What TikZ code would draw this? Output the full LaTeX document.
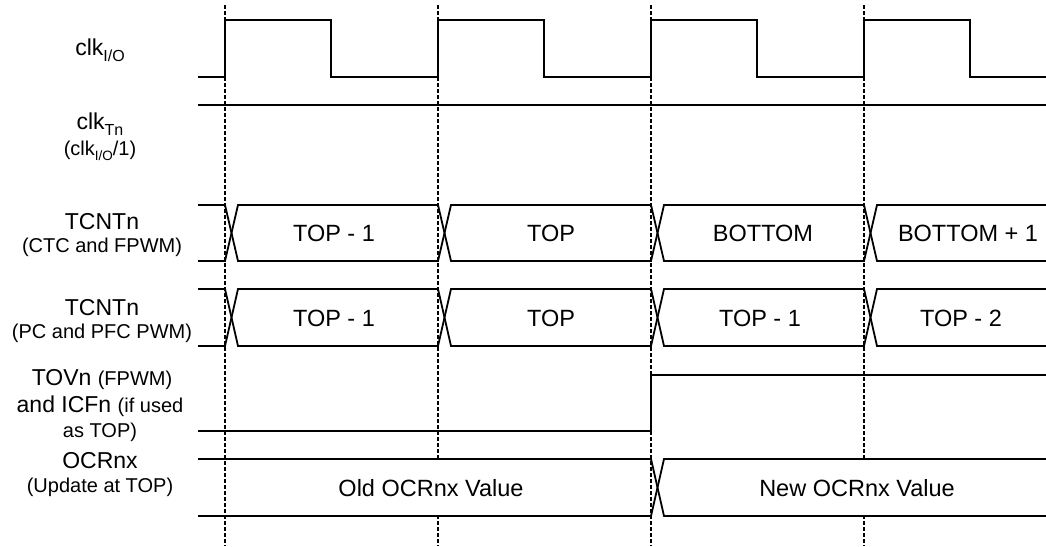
\documentclass[tikz,border=0pt]{standalone}
\usepackage{fontspec}
\setmainfont{Liberation Sans}
\newcommand{\mainsz}{\fontsize{23}{26}\selectfont}
\newcommand{\subsz}{\fontsize{20}{24}\selectfont}
\newcommand{\valsz}{\fontsize{23.5}{26}\selectfont}
\newcommand{\sbsbig}[1]{\raisebox{-6pt}{\fontsize{16}{16}\selectfont #1}}
\newcommand{\sbssmall}[1]{\raisebox{-5pt}{\fontsize{13.5}{14}\selectfont #1}}
\tikzset{
  sig/.style={line width=1.8pt, line join=miter},
  guide/.style={line width=1.3pt, dash pattern=on 4pt off 2pt},
  lab/.style={anchor=base, inner sep=0pt, align=center},
  val/.style={anchor=center, inner sep=0pt, font=\valsz},
}
\begin{document}
\begin{tikzpicture}[x=1pt,y=-1pt]
\useasboundingbox (0,0) rectangle (1046,546);
% guide lines
\foreach \gx/\gn in {225/g1,438/g2,651/g3,864/g4}{
  \coordinate (\gn t) at (\gx,5);
  \coordinate (\gn b) at (\gx,546);
  \draw[guide] (\gn t) -- (\gn b);
}
% OCRnx bus bodies hide the guides
\fill[white] (231,461) rectangle (645,514);
\fill[white] (670,461) rectangle (1044,514);

% clk I/O
\draw[sig] (198,77) -- (225,77) -- (225,20) -- (331,20) -- (331,77) -- (438,77) -- (438,20) -- (544,20) -- (544,77) -- (651,77) -- (651,20) -- (757,20) -- (757,77) -- (864,77) -- (864,20) -- (970,20) -- (970,77) -- (1046,77);
% clk Tn
\draw[sig] (198,105) -- (1046,105);
% TCNTn CTC/FPWM
\draw[sig] (198,205) -- (225,205) -- (238,261) -- (438,261) -- (451,205) -- (651,205) -- (664,261) -- (864,261) -- (877,205) -- (1046,205);
\draw[sig] (198,261) -- (225,261) -- (238,205) -- (438,205) -- (451,261) -- (651,261) -- (664,205) -- (864,205) -- (877,261) -- (1046,261);
% TCNTn PC/PFC
\draw[sig] (198,289) -- (225,289) -- (238,346) -- (438,346) -- (451,289) -- (651,289) -- (664,346) -- (864,346) -- (877,289) -- (1046,289);
\draw[sig] (198,346) -- (225,346) -- (238,289) -- (438,289) -- (451,346) -- (651,346) -- (664,289) -- (864,289) -- (877,346) -- (1046,346);
% TOVn
\draw[sig] (198,431) -- (651,431) -- (651,375) -- (1046,375);
% OCRnx
\draw[sig] (198,459) -- (651,459) -- (664,516) -- (1046,516);
\draw[sig] (198,516) -- (651,516) -- (664,459) -- (1046,459);

% left labels
\node[lab, font=\mainsz] (l1) at (100,55) {clk\sbsbig{I/O}};
\node[lab, font=\mainsz] (l2a) at (100,129) {clk\sbsbig{Tn}};
\node[lab, font=\subsz] (l2b) at (100,155) {(clk\sbssmall{I/O}/1)};
\node[lab, font=\mainsz] (l3a) at (102,229) {TCNTn};
\node[lab, font=\subsz] (l3b) at (102,252) {(CTC and FPWM)};
\node[lab, font=\mainsz] (l4a) at (102,315) {TCNTn};
\node[lab, font=\subsz] (l4b) at (102,338) {(PC and PFC PWM)};
\node[lab] (l5a) at (102,385) {{\mainsz TOVn }{\subsz (FPWM)}};
\node[lab] (l5b) at (100,412) {{\mainsz and ICFn }{\subsz (if used}};
\node[lab, font=\subsz] (l5c) at (100,437) {as TOP)};
\node[lab, font=\mainsz] (l6a) at (100,468) {OCRnx};
\node[lab, font=\subsz] (l6b) at (100,492) {(Update at TOP)};

% values
\node[val] (v11) at (334,233) {TOP - 1};
\node[val] (v12) at (551,233) {TOP};
\node[val] (v13) at (763,233) {BOTTOM};
\node[val] (v14) at (968,233) {BOTTOM + 1};
\node[val] (v21) at (334,318) {TOP - 1};
\node[val] (v22) at (551,318) {TOP};
\node[val] (v23) at (760,318) {TOP - 1};
\node[val] (v24) at (961,318) {TOP - 2};
\node[val] (v31) at (431,488) {Old OCRnx Value};
\node[val] (v32) at (857,488) {New OCRnx Value};
\end{tikzpicture}
\end{document}
